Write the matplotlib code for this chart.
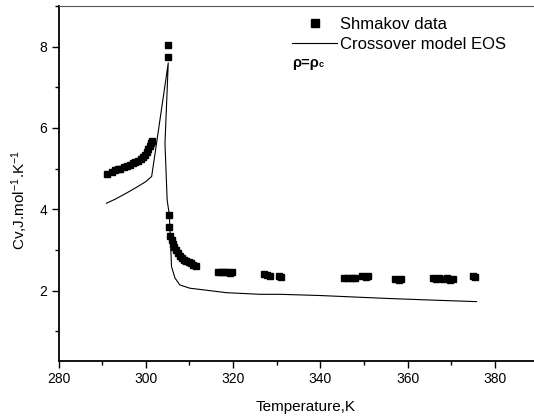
import matplotlib
matplotlib.use("Agg")
import matplotlib.pyplot as plt
from matplotlib.ticker import MultipleLocator
from matplotlib.lines import Line2D

plt.rcParams['font.family'] = ['Liberation Sans', 'DejaVu Sans']
plt.rcParams['mathtext.fontset'] = 'custom'
plt.rcParams['mathtext.rm'] = 'Liberation Sans'
plt.rcParams['mathtext.it'] = 'Liberation Sans:italic'
plt.rcParams['mathtext.bf'] = 'Liberation Sans:bold'

# Shmakov experimental data
data_T = [291.0, 292.3, 293.0, 293.6, 294.2, 295.0, 295.8, 296.3, 297.0, 297.6,
          298.2, 298.8, 299.3, 299.8, 300.2, 300.6, 300.9, 301.2, 301.4,
          305.2, 305.2,
          305.4, 305.4, 305.6, 305.9, 306.2, 306.5, 306.9, 307.3, 307.8, 308.3,
          308.8, 309.3, 309.8, 310.3, 310.8, 311.4,
          316.5, 317.3, 318.0, 318.6, 319.2, 319.7,
          327.0, 327.8, 328.5, 330.5, 331.0,
          345.5, 346.3, 347.2, 348.0, 349.5, 350.5, 351.0,
          357.0, 358.0, 358.5,
          365.8, 366.5, 367.3, 368.2, 369.0, 369.8, 370.5,
          375.0, 375.5]
data_Cv = [4.88, 4.93, 4.96, 4.98, 5.00, 5.03, 5.07, 5.10, 5.13, 5.17,
           5.20, 5.24, 5.28, 5.33, 5.40, 5.48, 5.56, 5.63, 5.69,
           8.05, 7.75,
           3.86, 3.56, 3.35, 3.25, 3.15, 3.08, 3.00, 2.92, 2.85, 2.80,
           2.76, 2.73, 2.70, 2.67, 2.64, 2.61,
           2.47, 2.46, 2.47, 2.45, 2.44, 2.45,
           2.40, 2.38, 2.37, 2.36, 2.33,
           2.31, 2.30, 2.32, 2.30, 2.35, 2.34, 2.35,
           2.28, 2.27, 2.28,
           2.30, 2.29, 2.30, 2.29, 2.30, 2.27, 2.29,
           2.36, 2.33]

# Crossover model EOS curve
model_T = [291.0, 293.0, 295.6, 298.0, 300.0, 301.35, 302.3, 303.25, 304.2, 305.15,
           304.4, 304.9, 305.4, 305.9, 306.7, 307.8, 310.1, 313.2, 318.5, 326.2,
           330.75, 340.0, 346.4, 355.0, 365.0, 375.8]
model_Cv = [4.15, 4.25, 4.40, 4.55, 4.68, 4.81, 5.50, 6.20, 6.90, 7.60,
            5.62, 4.23, 3.86, 2.59, 2.31, 2.14, 2.06, 2.02, 1.95, 1.91,
            1.91, 1.88, 1.85, 1.81, 1.77, 1.73]

x_label = "Temperature,K"
y_label = r"Cv,J.mol$^{-1}$.K$^{-1}$"
legend_labels = ["Shmakov data", "Crossover model EOS"]

fig = plt.figure(figsize=(5.34, 4.18), dpi=100)
ax = fig.add_axes([58.5 / 534, 57 / 418, 480 / 534, 355 / 418])

ax.plot(model_T, model_Cv, color='black', lw=0.8)
ax.plot(data_T, data_Cv, 's', color='black', ms=5, mec='black')

ax.set_xlim(280, 390)
ax.set_ylim(0.27, 9.0)
ax.xaxis.set_major_locator(MultipleLocator(20))
ax.xaxis.set_minor_locator(MultipleLocator(10))
ax.yaxis.set_major_locator(MultipleLocator(2))
ax.yaxis.set_minor_locator(MultipleLocator(1))
ax.tick_params(which='major', direction='out', length=5, width=1.0, labelsize=10, colors='black', pad=3)
ax.tick_params(which='minor', direction='out', length=3, width=1.0)

for s in ['left', 'bottom']:
    ax.spines[s].set_linewidth(1.3)
ax.spines['top'].set_linewidth(0.8)
ax.spines['top'].set_color('#555555')
ax.spines['right'].set_visible(False)

ax.set_xlabel(x_label, fontsize=11)
ax.set_ylabel(y_label, fontsize=11)
ax.xaxis.set_label_coords(0.515, -0.13)
ax.yaxis.set_label_coords(-0.08, 0.453)
ax.xaxis.label.set_va('center')
ax.yaxis.label.set_va('center')

handles = [Line2D([], [], ls='none', marker='s', color='black', ms=6),
           Line2D([], [], color='black', lw=0.8)]
ax.legend(handles, legend_labels, loc='upper left', bbox_to_anchor=((292 - 58.5) / 480, (361 - 17) / 355),
          frameon=False, fontsize=12, handlelength=2.7, handletextpad=0.2,
          labelspacing=0.3, borderaxespad=0, borderpad=0)

t = ax.text((292 - 58.5) / 480, (361 - 63) / 355, 'ρ=ρ', transform=ax.transAxes,
            fontsize=10.5, fontweight='bold', va='center', ha='left')
ax.annotate('c', xy=(1.0, 0.05), xycoords=t, fontsize=6.5, fontweight='bold', va='bottom', ha='left')

fig.savefig('out.png', dpi=100)
